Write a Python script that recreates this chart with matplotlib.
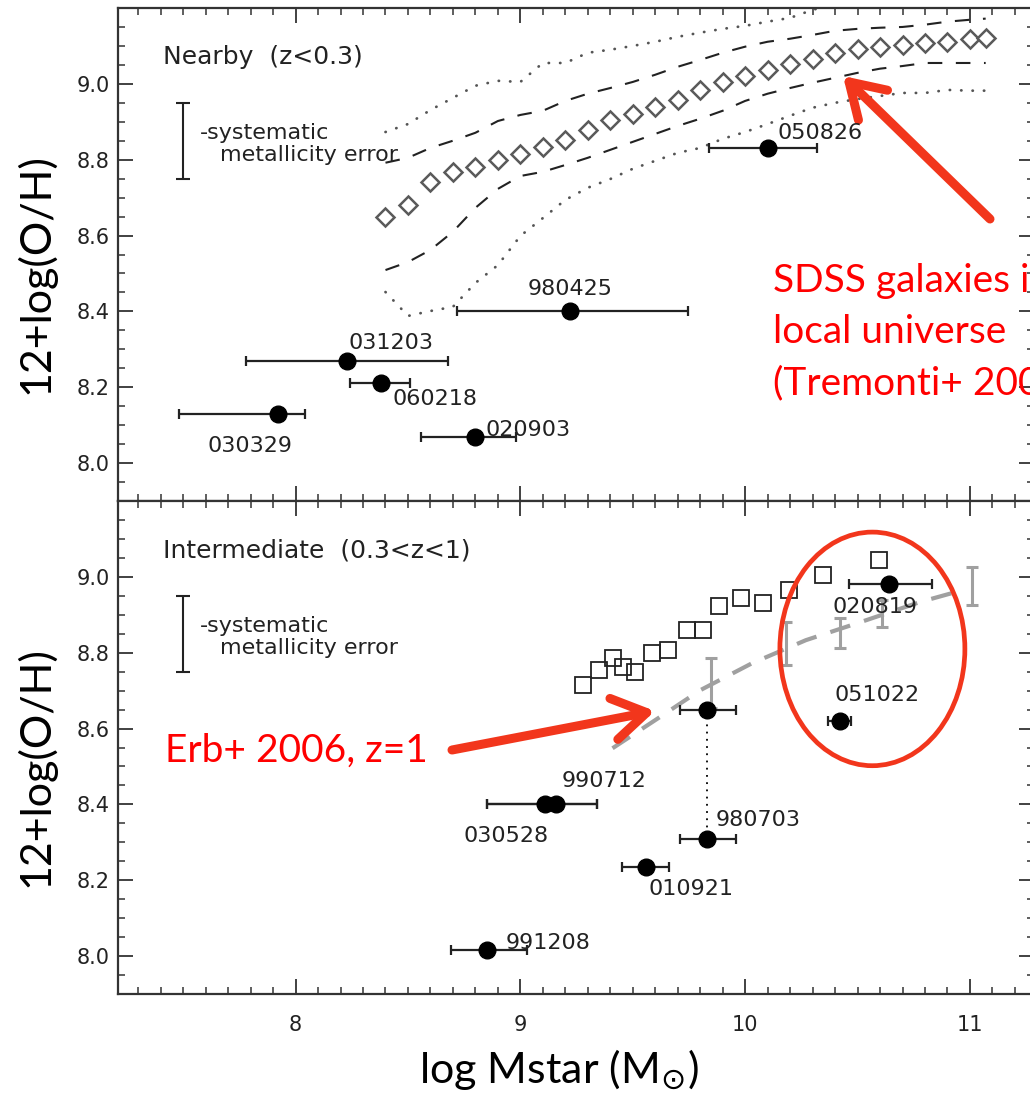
import matplotlib
matplotlib.use("Agg")
import matplotlib.pyplot as plt
from matplotlib.ticker import MultipleLocator, FixedLocator, FormatStrFormatter
from matplotlib.patches import Ellipse

# ---- SDSS local relation (Tremonti+ 2004): median, 1 sigma and 2 sigma envelopes
sdss_mass = [8.40, 8.50, 8.60, 8.70, 8.80, 8.90, 9.00, 9.10, 9.20, 9.30, 9.40, 9.50, 9.60, 9.70,
             9.80, 9.90, 10.00, 10.10, 10.20, 10.30, 10.40, 10.50, 10.60, 10.70, 10.80, 10.90,
             11.00, 11.07]
sdss_median = [8.649, 8.681, 8.741, 8.768, 8.781, 8.799, 8.815, 8.834, 8.852, 8.879, 8.905, 8.921,
               8.939, 8.958, 8.984, 9.005, 9.021, 9.037, 9.053, 9.066, 9.082, 9.092, 9.098, 9.103,
               9.108, 9.111, 9.119, 9.121]
sdss_hi1 = [8.792, 8.805, 8.831, 8.850, 8.871, 8.902, 8.918, 8.929, 8.955, 8.974, 8.989, 9.005,
            9.024, 9.045, 9.063, 9.082, 9.098, 9.111, 9.119, 9.129, 9.140, 9.145, 9.148, 9.150,
            9.156, 9.164, 9.169, 9.172]
sdss_lo1 = [8.509, 8.530, 8.562, 8.610, 8.673, 8.723, 8.757, 8.768, 8.786, 8.805, 8.826, 8.847,
            8.868, 8.889, 8.908, 8.929, 8.955, 8.974, 8.989, 9.003, 9.016, 9.029, 9.040, 9.047,
            9.055, 9.055, 9.055, 9.055]
sdss_lo2 = [8.451, 8.388, 8.401, 8.412, 8.475, 8.522, 8.599, 8.646, 8.694, 8.726, 8.749, 8.776,
            8.797, 8.818, 8.831, 8.855, 8.873, 8.894, 8.916, 8.937, 8.950, 8.960, 8.968, 8.976,
            8.976, 8.984, 8.982, 8.982]
sdss_hi2_mass = [8.40, 8.50, 8.60, 8.70, 8.80, 8.90, 9.00, 9.10, 9.20, 9.30, 9.40, 9.50, 9.60,
                 9.70, 9.80, 9.90, 10.00, 10.10, 10.20, 10.30, 10.40]
sdss_hi2 = [8.873, 8.894, 8.931, 8.963, 8.995, 9.008, 9.005, 9.055, 9.055, 9.082, 9.090, 9.100,
            9.111, 9.124, 9.135, 9.145, 9.153, 9.164, 9.174, 9.195, 9.211]

# ---- GRB hosts, nearby sample
near_grb = ["050826", "980425", "031203", "060218", "030329", "020903"]
near_mass = [10.10, 9.22, 8.23, 8.38, 7.92, 8.80]
near_mass_lo = [9.84, 8.72, 7.78, 8.24, 7.48, 8.56]
near_mass_hi = [10.32, 9.745, 8.68, 8.51, 8.04, 8.98]
near_oh = [8.83, 8.40, 8.27, 8.21, 8.13, 8.07]

# ---- GRB hosts, intermediate redshift sample (980703 has two metallicity branches)
mid_grb = ["020819", "051022", "", "980703", "010921", "990712", "030528", "991208"]
mid_mass = [10.64, 10.42, 9.83, 9.83, 9.56, 9.16, 9.11, 8.85]
mid_mass_lo = [10.46, 10.37, 9.71, 9.71, 9.45, 8.85, 8.85, 8.69]
mid_mass_hi = [10.83, 10.47, 9.96, 9.96, 9.66, 9.34, 9.34, 9.03]
mid_oh = [8.98, 8.62, 8.65, 8.31, 8.235, 8.40, 8.40, 8.015]

# ---- field galaxies at 0.3<z<1 (open squares)
field_mass = [9.277, 9.348, 9.411, 9.455, 9.509, 9.584, 9.656, 9.740, 9.811, 9.882, 9.980,
              10.078, 10.194, 10.345, 10.594]
field_oh = [8.714, 8.754, 8.786, 8.762, 8.749, 8.799, 8.807, 8.860, 8.860, 8.923, 8.944,
            8.931, 8.966, 9.005, 9.045]

# ---- Erb+ 2006 binned points and relation
erb_mass = [9.85, 10.18, 10.42, 10.61, 11.01]
erb_oh = [8.72, 8.824, 8.852, 8.904, 8.976]
erb_err = [0.065, 0.057, 0.040, 0.036, 0.050]
erb_fit_mass = [9.41, 9.62, 9.80, 10.03, 10.27, 10.50, 10.78, 10.95]
erb_fit_oh = [8.548, 8.630, 8.701, 8.772, 8.833, 8.878, 8.934, 8.962]

# label offsets (points) relative to each point
near_offsets = [((7, 11), "left"), ((0, 16), "center"), ((1, 13), "left"),
                ((8, -11), "left"), ((-20, -23), "center"), ((7, 5), "left")]
mid_offsets = [((-10, -16), "center"), ((27, 19), "center"), ((0, 0), "left"),
               ((6, 13), "left"), ((32, -16), "center"), ((4, 17), "left"),
               ((-28, -23), "center"), ((14, 5), "left")]

W, H = 1030, 1094
fig = plt.figure(figsize=(W / 100, H / 100), dpi=100)
x0, x1 = 118, 1034
ax1 = fig.add_axes([x0 / W, (H - 501) / H, (x1 - x0) / W, 493 / H])
ax2 = fig.add_axes([x0 / W, (H - 994) / H, (x1 - x0) / W, 493 / H])

ink = "#222222"
red_arrow = "#f2361c"
dotted = dict(color="#555555", lw=2.0, dashes=(0.1, 4.0), dash_capstyle="round")
dashed = dict(color="#222222", lw=1.5, dashes=(7, 6.5))

for ax in (ax1, ax2):
    ax.set_xlim(7.21, 11.285)
    ax.set_ylim(7.9, 9.2)
    ax.xaxis.set_major_locator(MultipleLocator(1))
    ax.xaxis.set_minor_locator(MultipleLocator(0.1))
    ax.yaxis.set_major_locator(FixedLocator([8.0, 8.2, 8.4, 8.6, 8.8, 9.0]))
    ax.yaxis.set_minor_locator(MultipleLocator(0.05))
    ax.yaxis.set_major_formatter(FormatStrFormatter("%.1f"))
    ax.tick_params(which="both", direction="in", top=True, right=True, color="#333333",
                   labelsize=15, labelcolor=ink)
    ax.tick_params(which="major", length=11, width=1.3)
    ax.tick_params(which="minor", length=5, width=1.1)
    ax.tick_params(axis="y", pad=6)
    ax.tick_params(axis="x", pad=15)
    for s in ax.spines.values():
        s.set_linewidth(1.6)
        s.set_color("#333333")
    # systematic metallicity error bar
    ax.errorbar([7.5], [8.85], yerr=[0.1], fmt="none", ecolor=ink, elinewidth=1.5,
                capsize=5, capthick=1.5)
    ax.text(7.573, 8.87, "-systematic", fontsize=16, color=ink, va="center")
    ax.text(7.662, 8.813, "metallicity error", fontsize=16, color=ink, va="center")
ax1.tick_params(labelbottom=False)

# ---- top panel
ax1.text(7.41, 9.07, "Nearby  (z<0.3)", fontsize=18, color=ink, va="center")
ax1.plot(sdss_hi2_mass, sdss_hi2, **dotted)
ax1.plot(sdss_mass, sdss_lo2, **dotted)
ax1.plot(sdss_mass, sdss_hi1, **dashed)
ax1.plot(sdss_mass, sdss_lo1, **dashed)
ax1.plot(sdss_mass, sdss_median, ls="none", marker="D", ms=9.5, mfc="white", mec="#5a5a5a",
         mew=1.8)

xerr = [[m - lo for m, lo in zip(near_mass, near_mass_lo)],
        [hi - m for m, hi in zip(near_mass, near_mass_hi)]]
ax1.errorbar(near_mass, near_oh, xerr=xerr, fmt="o", ms=12, color="black", ecolor=ink,
             elinewidth=1.6, capsize=3.5, capthick=1.6, zorder=4)
for name, m, oh, (off, ha) in zip(near_grb, near_mass, near_oh, near_offsets):
    ax1.annotate(name, (m, oh), xytext=off, textcoords="offset points", fontsize=16,
                 color=ink, ha=ha, va="center", zorder=5)

# ---- bottom panel
ax2.text(7.41, 9.07, "Intermediate  (0.3<z<1)", fontsize=18, color=ink, va="center")
ax2.plot(field_mass, field_oh, ls="none", marker="s", ms=12, mfc="none", mec="#222222",
         mew=1.3)
ax2.plot(erb_fit_mass, erb_fit_oh, color="#a0a0a0", lw=3, dashes=(5, 3.5))
ax2.errorbar(erb_mass, erb_oh, yerr=erb_err, fmt="none", ecolor="#a0a0a0", elinewidth=2.2,
             capsize=4, capthick=2.2)
ax2.plot([mid_mass[2], mid_mass[3]], [mid_oh[2], mid_oh[3]], color="black", lw=1.3,
         dashes=(1, 3))
xerr = [[m - lo for m, lo in zip(mid_mass, mid_mass_lo)],
        [hi - m for m, hi in zip(mid_mass, mid_mass_hi)]]
ax2.errorbar(mid_mass, mid_oh, xerr=xerr, fmt="o", ms=12, color="black", ecolor=ink,
             elinewidth=1.6, capsize=3.5, capthick=1.6, zorder=4)
for name, m, oh, (off, ha) in zip(mid_grb, mid_mass, mid_oh, mid_offsets):
    if name:
        ax2.annotate(name, (m, oh), xytext=off, textcoords="offset points", fontsize=16,
                     color=ink, ha=ha, va="center", zorder=5)

ax2.add_patch(Ellipse((10.566, 8.81), 0.823, 0.616, fill=False, ec=red_arrow, lw=3.4,
                      clip_on=False, zorder=6))

# ---- slide annotations
label_font = dict(family="Lato", color="black")
fig.text(35 / W, 1 - 274 / H, "12+log(O/H)", rotation=90, fontsize=31, ha="center",
         va="center", **label_font)
fig.text(35 / W, 1 - 767 / H, "12+log(O/H)", rotation=90, fontsize=31, ha="center",
         va="center", **label_font)
fig.text(559 / W, 11 / H, r"log Mstar (M$_{\odot}$)", fontsize=31, ha="center",
         va="baseline", **label_font)

# red caption runs off the right edge of the slide
for txt, base in [("SDSS galaxies in", 292), ("local universe", 343),
                  ("(Tremonti+ 2004)", 394)]:
    fig.text(773 / W, 1 - base / H, txt, fontsize=28, family="Lato", color="#ff0000",
             va="baseline")
fig.text(165 / W, 1 - 762 / H, "Erb+ 2006, z=1", fontsize=28, family="Lato",
         color="#ff0000", va="baseline")

arrow_style = dict(arrowstyle="->,head_length=1.2,head_width=0.75", lw=6.5, color=red_arrow,
                   mutation_scale=20, shrinkA=0, shrinkB=0)
ax1.annotate("", xy=(843, H - 76), xytext=(990, H - 219), xycoords="figure pixels",
             textcoords="figure pixels", arrowprops=arrow_style, annotation_clip=False)
ax2.annotate("", xy=(655, H - 711), xytext=(452, H - 750), xycoords="figure pixels",
             textcoords="figure pixels", arrowprops=arrow_style, annotation_clip=False)

fig.savefig("out.png", dpi=100)
